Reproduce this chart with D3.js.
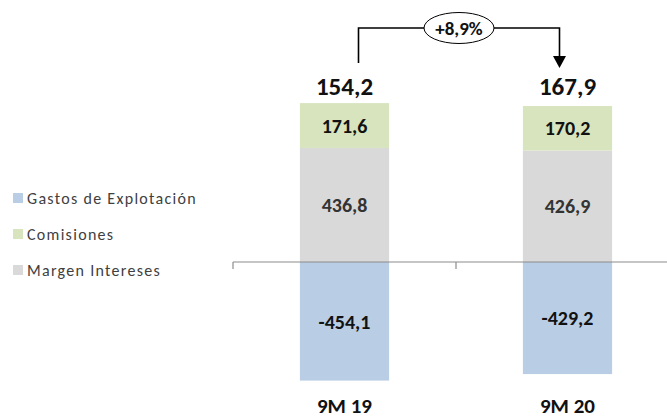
<!DOCTYPE html>
<html>
<head>
<meta charset="utf-8">
<script src="https://cdn.jsdelivr.net/npm/d3@7"></script>
<style>
  html, body { margin: 0; padding: 0; background: #fff; }
  svg { display: block; font-family: Carlito, Lato, "Open Sans", sans-serif; }
</style>
</head>
<body>
<svg id="chart" width="667" height="419"></svg>
<script>
// Periods on the x axis
const categories = ["9M 19", "9M 20"];
// Stacked components (millions)
const margenIntereses = [436.8, 426.9];
const comisiones = [171.6, 170.2];
const gastosExplotacion = [-454.1, -429.2];
// Result shown above each stack
const totals = [154.2, 167.9];
const totalLabels = ["154,2", "167,9"];
const changeLabel = "+8,9%";

const seriesNames = ["Gastos de Explotación", "Comisiones", "Margen Intereses"];
const colors = {
  "Gastos de Explotación": "#B9CDE5",
  "Comisiones": "#D7E4BD",
  "Margen Intereses": "#D9D9D9"
};

// Spanish number format: decimal comma, plain hyphen for negatives
const locale = d3.formatLocale({ decimal: ",", thousands: ".", grouping: [3], currency: ["", " €"], minus: "-" });
const fmt = locale.format(".1f");

const svg = d3.select("#chart");

const x = d3.scaleBand()
  .domain(categories)
  .range([233, 679])
  .paddingInner(0.6)
  .paddingOuter(0.3);

const y = d3.scaleLinear()
  .domain([-600, 700])
  .range([418.7, 79.2]);

// Build stacked segments: positive stack upward from zero, negative below
const segments = [];
categories.forEach((c, i) => {
  segments.push({ cat: c, name: "Margen Intereses", y0: 0, y1: margenIntereses[i], v: margenIntereses[i], strong: false });
  segments.push({ cat: c, name: "Comisiones", y0: margenIntereses[i], y1: margenIntereses[i] + comisiones[i], v: comisiones[i], strong: true });
  segments.push({ cat: c, name: "Gastos de Explotación", y0: gastosExplotacion[i], y1: 0, v: gastosExplotacion[i], strong: true });
});

svg.append("g").selectAll("rect")
  .data(segments)
  .join("rect")
  .attr("x", d => x(d.cat))
  .attr("width", x.bandwidth())
  .attr("y", d => y(d.y1))
  .attr("height", d => y(d.y0) - y(d.y1))
  .attr("fill", d => colors[d.name]);

// Axis line at zero with ticks at band boundaries
const gap = (x.step() - x.bandwidth()) / 2;
const edges = categories.map(c => x(c) - gap);
edges.push(x(categories[categories.length - 1]) + x.bandwidth() + gap);
const axisG = svg.append("g").attr("stroke", "#8C8C8C").attr("stroke-width", 1.2);
axisG.append("line")
  .attr("x1", edges[0]).attr("x2", edges[edges.length - 1])
  .attr("y1", y(0)).attr("y2", y(0));
axisG.selectAll("line.tick")
  .data(edges)
  .join("line")
  .attr("class", "tick")
  .attr("x1", d => d).attr("x2", d => d)
  .attr("y1", y(0)).attr("y2", y(0) + 7);

// Segment value labels
svg.append("g").selectAll("text")
  .data(segments)
  .join("text")
  .attr("x", d => x(d.cat) + x.bandwidth() / 2)
  .attr("y", d => (y(d.y0) + y(d.y1)) / 2)
  .attr("dy", "0.36em")
  .attr("text-anchor", "middle")
  .attr("font-size", 20)
  .attr("font-weight", "bold")
  .attr("fill", d => d.strong ? "#111" : "#333")
  .text(d => fmt(d.v));

// Totals above stacks
const topY = d3.min(categories.map((c, i) => y(margenIntereses[i] + comisiones[i])));
svg.append("g").selectAll("text")
  .data(categories)
  .join("text")
  .attr("x", c => x(c) + x.bandwidth() / 2)
  .attr("y", topY - 8)
  .attr("text-anchor", "middle")
  .attr("font-size", 25)
  .attr("font-weight", "bold")
  .attr("fill", "#111")
  .text((c, i) => totalLabels[i]);

// Category labels
svg.append("g").selectAll("text")
  .data(categories)
  .join("text")
  .attr("x", c => x(c) + x.bandwidth() / 2)
  .attr("y", 413)
  .attr("text-anchor", "middle")
  .attr("font-size", 21)
  .attr("font-weight", "bold")
  .attr("fill", "#111")
  .text(c => c);

// Growth connector between the two totals
const cx1 = x(categories[0]) + x.bandwidth() / 2 + 14;
const cx2 = x(categories[1]) + x.bandwidth() / 2 - 8;
const lineY = 28;
svg.append("path")
  .attr("d", `M${cx1},63 V${lineY} H${cx2} V58`)
  .attr("fill", "none")
  .attr("stroke", "#000")
  .attr("stroke-width", 1.6);
svg.append("path")
  .attr("d", `M${cx2 - 6.5},56 L${cx2 + 6.5},56 L${cx2},68 Z`)
  .attr("fill", "#000");
const ex = (cx1 + cx2) / 2;
svg.append("ellipse")
  .attr("cx", ex).attr("cy", lineY)
  .attr("rx", 35).attr("ry", 15.5)
  .attr("fill", "#fff")
  .attr("stroke", "#000")
  .attr("stroke-width", 1);
svg.append("text")
  .attr("x", ex).attr("y", lineY)
  .attr("dy", "0.36em")
  .attr("text-anchor", "middle")
  .attr("font-size", 19)
  .attr("font-weight", "bold")
  .attr("fill", "#111")
  .text(changeLabel);

// Legend
const legend = svg.append("g").selectAll("g")
  .data(seriesNames)
  .join("g")
  .attr("transform", (d, i) => `translate(13, ${198 + i * 36})`);
legend.append("rect")
  .attr("x", 0).attr("y", -5)
  .attr("width", 10).attr("height", 10)
  .attr("fill", d => colors[d]);
legend.append("text")
  .attr("x", 14)
  .attr("dy", "0.35em")
  .attr("font-size", 16)
  .attr("letter-spacing", 1.3)
  .attr("fill", "#404040")
  .text(d => d);
</script>
</body>
</html>
